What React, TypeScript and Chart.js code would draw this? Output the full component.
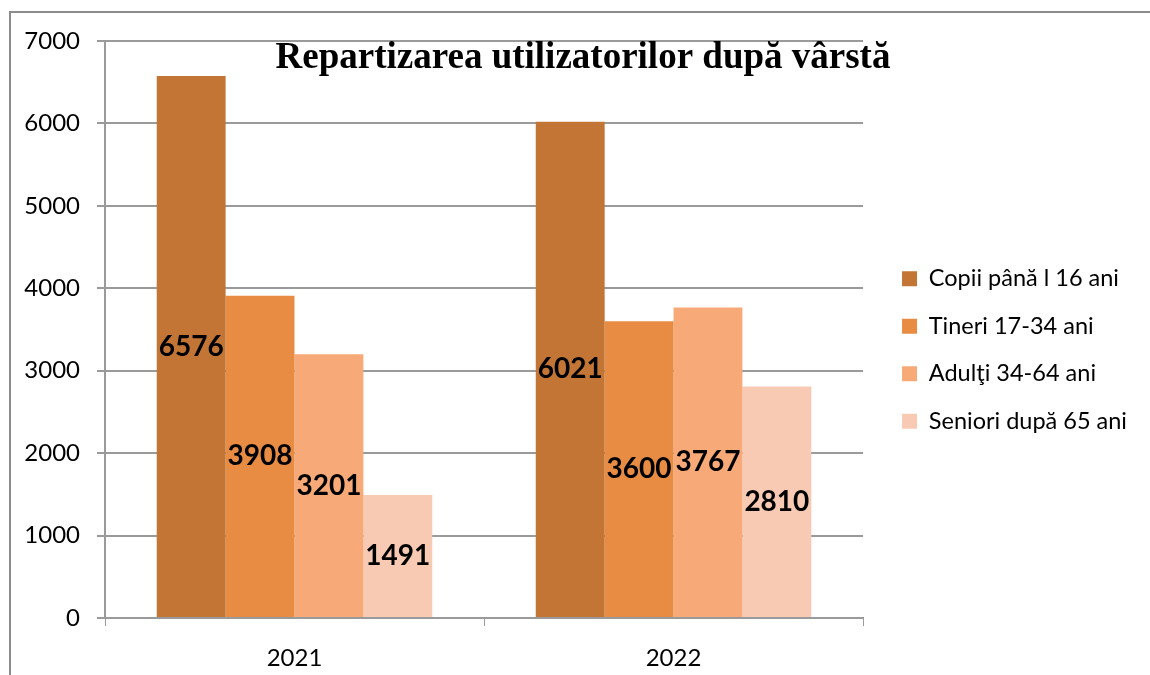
import React, { useEffect, useRef } from "react";
import { Chart, registerables } from "chart.js";

Chart.register(...registerables);

const categories = ["2021", "2022"];
const seriesNames = ["Copii până l 16 ani", "Tineri 17-34 ani", "Adulţi 34-64 ani", "Seniori după 65 ani"];
const copii = [6576, 6021];
const tineri = [3908, 3600];
const adulti = [3201, 3767];
const seniori = [1491, 2810];
const colors = ["#C27535", "#E88C43", "#F7AA78", "#F8CAB3"];
const title = "Repartizarea utilizatorilor după vârstă";
const SANS = "Lato, 'Open Sans', sans-serif";

const extras = {
  id: "extras",
  afterLayout(chart: any) {
    if (chart.legend) {
      chart.legend.bottom = chart.legend.bottom - 16;
      chart.legend.left = chart.legend.left + 15;
      chart.legend.right = chart.legend.right + 20;
    }
  },
  beforeDraw(chart: any) {
    const ctx = chart.ctx;
    ctx.save();
    ctx.strokeStyle = "#8c8c8c";
    ctx.lineWidth = 2;
    ctx.strokeRect(10, 12, 1200, 700);
    ctx.restore();
  },
  afterDatasetsDraw(chart: any) {
    const ctx = chart.ctx;
    ctx.save();
    ctx.fillStyle = "#000";
    ctx.font = `bold 28px ${SANS}`;
    ctx.textAlign = "center";
    ctx.textBaseline = "middle";
    chart.data.datasets.forEach((ds: any, i: number) => {
      const meta = chart.getDatasetMeta(i);
      meta.data.forEach((bar: any, j: number) => {
        const y = (bar.y + bar.base) / 2;
        ctx.fillText(String(ds.data[j]), bar.x, y);
      });
    });
    ctx.font = "bold 37px 'Liberation Serif', 'Times New Roman', serif";
    ctx.fillText(title, 583, 58);
    ctx.restore();
  },
};

export default function App() {
  const ref = useRef<HTMLCanvasElement>(null);
  useEffect(() => {
    const data = [copii, tineri, adulti, seniori];
    const chart = new Chart(ref.current!, {
      type: "bar",
      data: {
        labels: categories,
        datasets: seriesNames.map((n, i) => ({
          label: n,
          data: data[i],
          backgroundColor: colors[i],
          borderWidth: 0,
          categoryPercentage: 0.727,
          barPercentage: 1.0,
        })),
      },
      options: {
        animation: false,
        responsive: false,
        layout: { padding: { left: 10, top: 41, right: 28, bottom: 0 } },
        plugins: {
          legend: {
            position: "right",
            labels: {
              font: { family: SANS, size: 23.5 },
              color: "#000",
              boxWidth: 15,
              boxHeight: 15,
              padding: 24,
            },
          },
          title: { display: false },
          tooltip: { enabled: false },
        },
        scales: {
          x: {
            afterFit: (s: any) => { s.height = 57; },
            grid: { display: true, drawOnChartArea: false, drawTicks: true, tickLength: 8, color: "#9a9a9a", offset: true },
            border: { color: "#9a9a9a", width: 2 },
            ticks: { font: { family: SANS, size: 24 }, color: "#000", padding: 18 },
          },
          y: {
            min: 0,
            max: 7000,
            afterFit: (s: any) => { s.width = 95; },
            ticks: {
              stepSize: 1000,
              font: { family: SANS, size: 24 },
              color: "#000",
              padding: 17,
              callback: (v: any) => String(v),
            },
            grid: { color: "#9a9a9a", lineWidth: 2, tickLength: 8 },
            border: { color: "#9a9a9a", width: 2 },
          },
        },
      },
      plugins: [extras],
    });
    return () => chart.destroy();
  }, []);
  return (
    <div style={{ position: "fixed", left: 0, top: 0, width: 1150, height: 675, background: "#fff" }}>
      <canvas ref={ref} width={1150} height={675} />
    </div>
  );
}
